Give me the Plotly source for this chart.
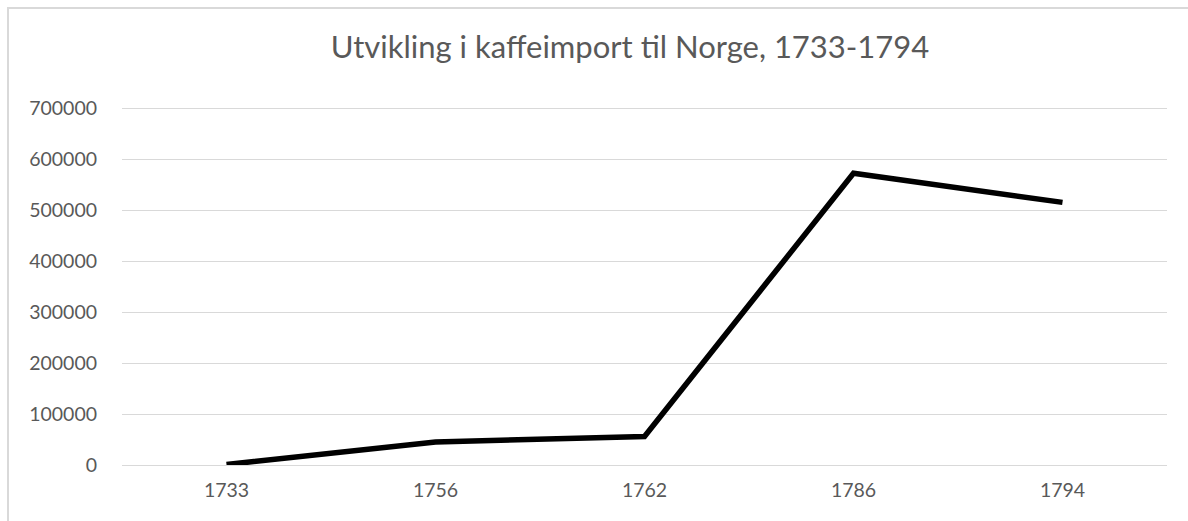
import plotly.graph_objects as go

years = ["1733", "1756", "1762", "1786", "1794"]
imports = [1000, 45000, 56000, 572000, 515000]
y_ticks = [0, 100000, 200000, 300000, 400000, 500000, 600000, 700000]

title_text = "Utvikling i kaffeimport til Norge, 1733-1794"

fig = go.Figure()
fig.add_trace(go.Scatter(
    x=years, y=imports, mode="lines",
    line=dict(color="#000000", width=5.5),
    showlegend=False, hoverinfo="x+y",
))

font_family = "Lato, 'Open Sans', sans-serif"
plot_w = 1045.0

fig.update_layout(
    width=1188, height=521,
    paper_bgcolor="white", plot_bgcolor="white",
    margin=dict(l=122, r=21, t=106, b=56),
    title=dict(text=title_text, x=630 / 1188, xanchor="center", y=1 - 47 / 521, yanchor="middle",
               font=dict(family=font_family, size=31, color="#595959")),
    xaxis=dict(type="category", range=[-0.5, 4.5], showgrid=False, showline=False, zeroline=False,
               tickfont=dict(family=font_family, size=19.5, color="#595959"),
               ticks="", ticklabelstandoff=11),
    yaxis=dict(range=[0, 704000], tickvals=y_ticks, ticktext=[str(v) for v in y_ticks],
               showgrid=True, gridcolor="#d9d9d9", gridwidth=1.3,
               zeroline=True, zerolinecolor="#d9d9d9", zerolinewidth=1.3,
               showline=False, ticks="",
               tickfont=dict(family=font_family, size=19.5, color="#595959"),
               ticklabelstandoff=24),
    shapes=[
        dict(type="rect", xref="paper", yref="paper", layer="above",
             x0=-114 / plot_w, x1=1.3, y0=-0.5, y1=1 + 98 / 359,
             line=dict(color="#d9d9d9", width=2), fillcolor="rgba(0,0,0,0)"),
    ],
)

fig.write_html("out.html", config={"displayModeBar": False},
               post_script="document.body.style.margin='0';document.body.style.overflow='hidden';")
